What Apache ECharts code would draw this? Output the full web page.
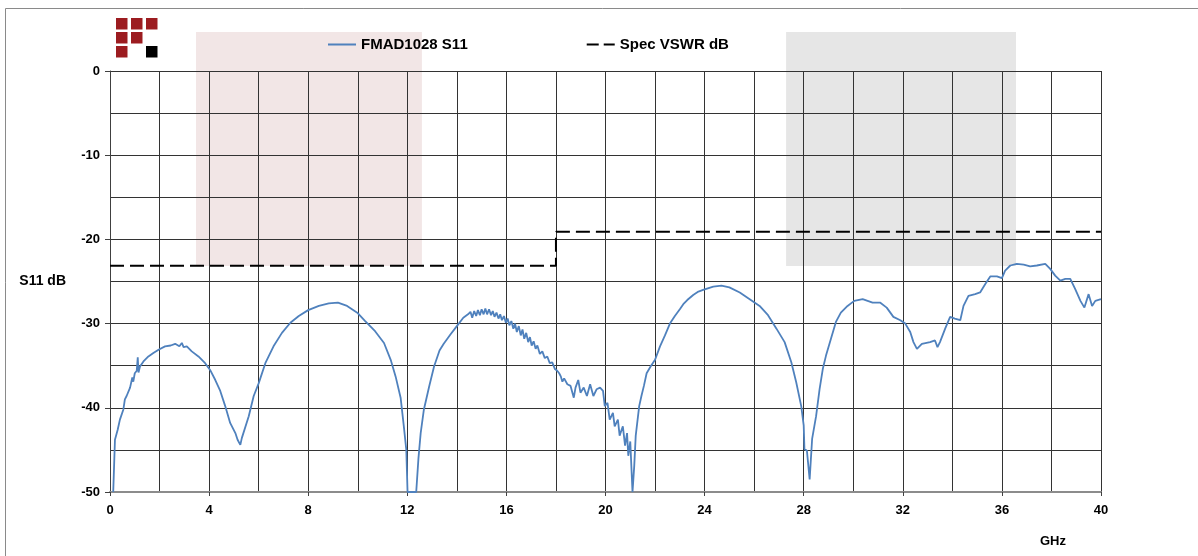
<!DOCTYPE html>
<html>
<head>
<meta charset="utf-8">
<script src="https://cdn.jsdelivr.net/npm/echarts@6/dist/echarts.min.js"></script>
<style>
html,body{margin:0;padding:0;background:#fff;}
#chart{width:1198px;height:556px;}
</style>
</head>
<body>
<div id="chart"></div>
<script>
// ---- data: [frequency GHz, S11 dB] ----
const s11Band1 = [
 [0.13,-50],[0.2,-43.8],[0.31,-42.6],[0.4,-41.4],[0.54,-40.2],[0.6,-39.0],[0.67,-38.6],[0.81,-37.6],[0.9,-36.4],[0.94,-36.9],
 [1.0,-35.9],[1.08,-35.6],[1.12,-34.0],[1.15,-35.8],[1.21,-35.1],[1.35,-34.5],[1.55,-33.9],[1.75,-33.5],[1.96,-33.1],[2.22,-32.7],
 [2.45,-32.6],[2.63,-32.4],[2.8,-32.7],[2.9,-32.3],[2.97,-32.8],[3.1,-32.7],[3.3,-33.3],[3.57,-33.9],[3.84,-34.7],[4.04,-35.5],
 [4.25,-36.7],[4.45,-38.0],[4.65,-39.8],[4.85,-41.8],[5.06,-43.0],[5.15,-43.8],[5.26,-44.4],[5.32,-43.6],[5.39,-43.4],[5.6,-41.0],
 [5.8,-38.6],[6.0,-37.1],[6.27,-34.7],[6.6,-32.7],[6.94,-31.1],[7.28,-29.9],[7.62,-29.1],[8.0,-28.4],[8.43,-27.9],[8.83,-27.6],
 [9.2,-27.5],[9.57,-27.9],[9.98,-28.7],[10.3,-29.7],[10.7,-30.9],[11.06,-32.3],[11.33,-34.3],[11.53,-36.3],[11.73,-38.8],[11.86,-42.2],
 [11.96,-45.0],[12.01,-50]
];
const s11Band2 = [
 [12.36,-50],[12.45,-46.0],[12.54,-43.0],[12.67,-40.2],[12.88,-37.5],[13.08,-35.1],[13.3,-33.2],[13.47,-32.4],[13.74,-31.3],[14.0,-30.3],
 [14.26,-29.3],[14.45,-28.9],[14.55,-28.6],[14.62,-29.3],[14.7,-28.5],[14.78,-29.1],[14.85,-28.4],[14.93,-29.0],[15.0,-28.3],[15.08,-28.9],
 [15.15,-28.2],[15.22,-28.9],[15.3,-28.3],[15.38,-29.0],[15.45,-28.5],[15.52,-29.2],[15.6,-28.7],[15.68,-29.4],[15.75,-28.9],[15.82,-29.6],
 [15.9,-29.1],[15.98,-29.9],[16.05,-29.4],[16.12,-30.2],[16.2,-29.7],[16.28,-30.6],[16.35,-30.0],[16.42,-31.0],[16.5,-30.3],[16.58,-31.4],
 [16.65,-30.7],[16.72,-31.8],[16.8,-31.1],[16.88,-32.2],[16.95,-31.6],[17.02,-32.6],[17.1,-32.1],[17.18,-33.0],[17.25,-32.6],[17.35,-33.6],
 [17.45,-33.3],[17.55,-34.1],[17.65,-33.9],[17.75,-34.7],[17.85,-34.6],[17.96,-35.4]
];
const s11Band3 = [
 [18.05,-35.6],[18.13,-35.9],[18.2,-36.3],[18.26,-36.9],[18.33,-36.5],[18.46,-37.2],[18.59,-37.4],[18.72,-38.8],[18.79,-37.6],[18.9,-36.7],
 [18.99,-38.2],[19.12,-37.6],[19.25,-38.6],[19.38,-37.2],[19.51,-38.6],[19.64,-37.8],[19.78,-37.6],[19.9,-38.0],[19.97,-39.8],[20.08,-39.4],
 [20.17,-41.4],[20.3,-40.6],[20.37,-42.2],[20.5,-41.4],[20.57,-43.3],[20.7,-42.2],[20.79,-44.5],[20.87,-43.0],[20.92,-45.7],[21.0,-44.0],
 [21.09,-50],[21.16,-46.9],[21.22,-43.3],[21.36,-39.8],[21.45,-38.6],[21.55,-37.4],[21.66,-35.9],[21.82,-35.1],[22.0,-34.3],[22.2,-32.7],
 [22.4,-31.4],[22.6,-30.0],[22.8,-29.1],[23.0,-28.3],[23.14,-27.7],[23.3,-27.2],[23.54,-26.6],[23.75,-26.2],[23.94,-26.0],[24.35,-25.6],
 [24.68,-25.5],[25.0,-25.7],[25.42,-26.3],[25.82,-27.1],[26.22,-27.9],[26.56,-29.0],[26.9,-30.6],[27.23,-32.2],[27.5,-34.6],[27.7,-37.0],
 [27.9,-39.8],[28.0,-42.1],[28.03,-44.9],[28.13,-45.1],[28.24,-48.5],[28.34,-43.7],[28.5,-41.0],[28.64,-37.8],[28.77,-35.4],[28.9,-33.8]
];
const s11Band4 = [
 [29.1,-31.8],[29.3,-29.8],[29.5,-28.7],[29.77,-27.9],[30.04,-27.3],[30.38,-27.1],[30.78,-27.5],[31.08,-27.5],[31.35,-28.1],[31.62,-29.2],
 [31.9,-29.6],[32.1,-30.0],[32.3,-31.0],[32.43,-32.2],[32.57,-33.0],[32.77,-32.4],[33.1,-32.2],[33.3,-32.0],[33.4,-32.8],[33.5,-32.2],
 [33.71,-30.6],[33.91,-29.2],[34.1,-29.4],[34.32,-29.6],[34.45,-27.9],[34.65,-26.7],[34.92,-26.5],[35.12,-26.3],[35.33,-25.3],[35.53,-24.4],
 [35.8,-24.4],[36.0,-24.6],[36.13,-23.7],[36.34,-23.1],[36.6,-22.9],[36.88,-23.0],[37.14,-23.2],[37.41,-23.1],[37.75,-22.9],[37.95,-23.5],
 [38.15,-24.3],[38.36,-24.9],[38.56,-24.7],[38.76,-24.7],[38.96,-25.9],[39.17,-27.3],[39.33,-28.1],[39.5,-26.5],[39.64,-27.9],[39.77,-27.3],
 [40.0,-27.1]
];
const specFreq = [0, 18, 18, 40];
const specDb = [-23.13, -23.13, -19.08, -19.08];
const xTicks = [0, 4, 8, 12, 16, 20, 24, 28, 32, 36, 40];
const yTicks = [-50, -40, -30, -20, -10, 0];
const seriesNames = ['FMAD1028 S11', 'Spec VSWR dB'];
// shaded bands: [xFrom, xTo, yTop, yBottom]
const pinkBand = [3.47, 12.59, 4.63, -23.16];
const grayBand = [27.29, 36.57, 4.63, -23.16];

const measured = s11Band1.concat(s11Band2, s11Band3, s11Band4);
const spec = specFreq.map((f, i) => [f, specDb[i]]);

const FONT = 'Liberation Sans, Arial, sans-serif';
const chart = echarts.init(document.getElementById('chart'));

const logo = [
  [116, 18, '#9c1c20'], [131, 18, '#9c1c20'], [146, 18, '#9c1c20'],
  [116, 32, '#9c1c20'], [131, 32, '#9c1c20'],
  [116, 46, '#9c1c20'], [146, 46, '#000']
].map(s => ({ type: 'rect', silent: true, shape: { x: s[0], y: s[1], width: 11.5, height: 11.5 }, style: { fill: s[2] } }));

const baseGraphic = [
  { id: 'frame', type: 'rect', silent: true, shape: { x: 5.5, y: 8.5, width: 1300, height: 700 }, style: { fill: 'none', stroke: '#8a8a8a', lineWidth: 1 } },
  { id: 'ghz', type: 'text', silent: true, x: 1040, y: 535, style: { text: 'GHz', font: 'bold 13px ' + FONT, fill: '#000' } }
].concat(logo);

chart.setOption({
  backgroundColor: '#fff',
  animation: false,
  grid: { left: 110, right: 97, top: 71, bottom: 64, containLabel: false },
  legend: {
    data: [
      { name: seriesNames[0], icon: 'path://M0,0H28V2H0Z' },
      { name: seriesNames[1], icon: 'path://M0,0H12V2H0Z M17,0H28V2H17Z' }
    ],
    left: 323, top: 32,
    itemWidth: 28, itemHeight: 2, itemGap: 119, symbolKeepAspect: false,
    textStyle: { fontFamily: FONT, fontWeight: 'bold', fontSize: 15, color: '#000' }
  },
  graphic: baseGraphic,
  xAxis: {
    type: 'value', min: xTicks[0], max: xTicks[xTicks.length - 1], interval: xTicks[1] - xTicks[0],
    z: 2,
    axisLine: { show: true, onZero: false, lineStyle: { color: '#8c8c8c', width: 2 } },
    axisTick: { show: true, length: 4, lineStyle: { color: '#404040' } },
    axisLabel: { margin: 12, fontFamily: FONT, fontWeight: 'bold', fontSize: 13, color: '#000' },
    splitLine: { show: true, lineStyle: { color: '#333', width: 1 } },
    minorTick: { show: false, splitNumber: 2 },
    minorSplitLine: { show: true, lineStyle: { color: '#333', width: 1 } }
  },
  yAxis: {
    type: 'value', min: yTicks[0], max: yTicks[yTicks.length - 1], interval: yTicks[1] - yTicks[0],
    z: 2,
    name: 'S11 dB', nameLocation: 'middle', nameRotate: 0, nameGap: 44,
    nameTextStyle: { fontFamily: FONT, fontWeight: 'bold', fontSize: 14, color: '#000' },
    axisLine: { show: true, onZero: false, lineStyle: { color: '#404040', width: 1 } },
    axisTick: { show: true, length: 5, lineStyle: { color: '#404040' } },
    axisLabel: { margin: 10, fontFamily: FONT, fontWeight: 'bold', fontSize: 13, color: '#000' },
    splitLine: { show: true, lineStyle: { color: '#333', width: 1 } },
    minorTick: { show: false, splitNumber: 2 },
    minorSplitLine: { show: true, lineStyle: { color: '#333', width: 1 } }
  },
  series: [
    {
      name: seriesNames[0], type: 'line', data: measured, symbol: 'none', z: 4,
      lineStyle: { color: '#4f81bd', width: 1.8 }, itemStyle: { color: '#4f81bd' }
    },
    {
      name: seriesNames[1], type: 'line', data: spec, symbol: 'none', z: 4,
      lineStyle: { color: '#000', width: 2, type: [14, 6] }, itemStyle: { color: '#000' }
    }
  ]
});

// shaded bands placed through the chart's own axis scales (they extend above the plot top)
function bandRect(id, b, color) {
  const p1 = chart.convertToPixel({ gridIndex: 0 }, [b[0], b[2]]);
  const p2 = chart.convertToPixel({ gridIndex: 0 }, [b[1], b[3]]);
  return { id: id, type: 'rect', z: 1, silent: true,
    shape: { x: p1[0], y: p1[1], width: p2[0] - p1[0], height: p2[1] - p1[1] },
    style: { fill: color } };
}
chart.setOption({ graphic: [bandRect('pink', pinkBand, '#f2e6e6'), bandRect('gray', grayBand, '#e6e6e6')] });
</script>
</body>
</html>
